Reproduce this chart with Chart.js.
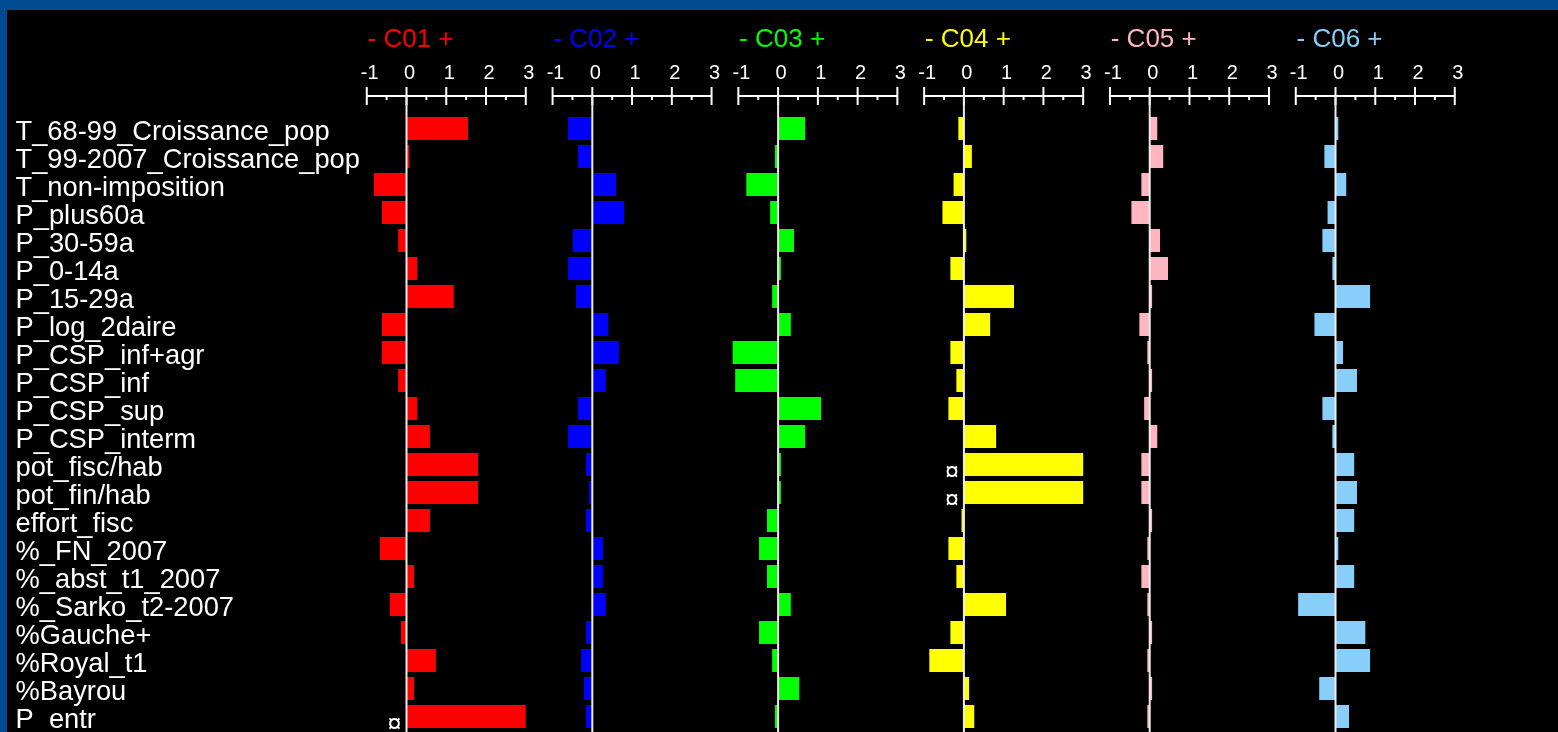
<!DOCTYPE html>
<html>
<head>
<meta charset="utf-8">
<script src="https://cdn.jsdelivr.net/npm/chart.js@4.4.1/dist/chart.umd.min.js"></script>
<style>
html,body{margin:0;padding:0;width:1558px;height:732px;overflow:hidden;background:#004b92;}
#wrap{position:absolute;left:7px;top:10px;width:1551px;height:722px;background:#000;}
canvas{display:block;}
</style>
</head>
<body>
<div id="wrap"><canvas id="c" width="1551" height="722"></canvas></div>
<script>
// ---------- DATA ----------
const variables = [
  'T_68-99_Croissance_pop','T_99-2007_Croissance_pop','T_non-imposition','P_plus60a',
  'P_30-59a','P_0-14a','P_15-29a','P_log_2daire','P_CSP_inf+agr','P_CSP_inf',
  'P_CSP_sup','P_CSP_interm','pot_fisc/hab','pot_fin/hab','effort_fisc','%_FN_2007',
  '%_abst_t1_2007','%_Sarko_t2-2007','%Gauche+','%Royal_t1','%Bayrou','P_entr'
];
const panels = ['C01','C02','C03','C04','C05','C06'];
const tickValues = [-1, 0, 1, 2, 3];
const tickLabels = ['-1', '0', '1', '2', '3'];

const C01 = [1.55, 0.07, -0.82, -0.62, -0.21, 0.27, 1.19, -0.62, -0.62, -0.21, 0.27, 0.59, 1.80, 1.80, 0.59, -0.67, 0.19, -0.42, -0.14, 0.74, 0.19, 3.5];
const C02 = [-0.61, -0.36, 0.60, 0.80, -0.49, -0.61, -0.41, 0.40, 0.67, 0.34, -0.36, -0.61, -0.16, -0.08, -0.16, 0.27, 0.27, 0.34, -0.16, -0.28, -0.21, -0.16];
const C03 = [0.68, -0.08, -0.80, -0.20, 0.40, 0.07, -0.15, 0.32, -1.15, -1.08, 1.08, 0.68, 0.07, 0.07, -0.28, -0.48, -0.28, 0.32, -0.48, -0.15, 0.53, -0.08];
const C04 = [-0.14, 0.20, -0.26, -0.54, 0.06, -0.34, 1.26, 0.66, -0.34, -0.19, -0.39, 0.81, 3.5, 3.5, -0.06, -0.39, -0.19, 1.06, -0.34, -0.87, 0.13, 0.26];
const C05 = [0.19, 0.34, -0.21, -0.46, 0.26, 0.46, 0.06, -0.26, -0.06, 0.06, -0.14, 0.19, -0.21, -0.21, 0.06, -0.06, -0.21, -0.06, 0.06, -0.06, 0.06, -0.06];
const C06 = [0.07, -0.28, 0.27, -0.20, -0.33, -0.08, 0.87, -0.53, 0.19, 0.54, -0.33, -0.08, 0.47, 0.54, 0.47, 0.07, 0.47, -0.94, 0.75, 0.87, -0.41, 0.34];

const shownMax = 3;   // values beyond are truncated and flagged with ¤
const clipMark = '¤';

// ---------- STYLE ----------
const series = [C01, C02, C03, C04, C05, C06];
const panelColors = ['#ff0000', '#0000ff', '#00ff00', '#ffff00', '#ffb6c1', '#87cefa'];
const FONT = "'Liberation Sans', Arial, sans-serif";
Chart.defaults.font.family = FONT;

const xScales = {};
panels.forEach((p, k) => {
  xScales['x' + k] = {
    type: 'linear',
    position: 'top',
    stack: 'panels',
    stackWeight: 1,
    weight: panels.length - k,
    min: -1.15,
    max: 3.524,
    grid: { display: false, drawTicks: false },
    border: { display: false },
    ticks: {
      color: '#ffffff',
      font: { size: 20 },
      padding: 29.4,
      labelOffset: 3,
      autoSkip: false,
      maxRotation: 0,
      minRotation: 0,
      callback: (v) => { const i = tickValues.indexOf(v); return i >= 0 ? tickLabels[i] : ''; }
    },
    afterBuildTicks: (s) => { s.ticks = tickValues.map(v => ({ value: v })); },
    afterFit: (s) => { s.height = 84; s.paddingLeft = 0; s.paddingRight = 0; }
  };
});

const rulerPlugin = {
  id: 'ruler',
  afterDatasetsDraw(chart) {
    const ctx = chart.ctx;
    const area = chart.chartArea;
    const yLine = area.top - 18.5;
    const yScale = chart.scales.y;
    ctx.save();
    panels.forEach((p, k) => {
      const s = chart.scales['x' + k];
      const px = (v) => s.getPixelForValue(v);
      ctx.strokeStyle = '#ffffff';
      ctx.lineWidth = 2;
      ctx.beginPath();
      ctx.moveTo(px(tickValues[0]) - 1, yLine);
      ctx.lineTo(px(tickValues[tickValues.length - 1]) + 1, yLine);
      tickValues.forEach(v => { ctx.moveTo(px(v), yLine - 9); ctx.lineTo(px(v), yLine + 9); });
      for (let i = 0; i < tickValues.length - 1; i++) {
        const m = (tickValues[i] + tickValues[i + 1]) / 2;
        ctx.moveTo(px(m), yLine); ctx.lineTo(px(m), yLine + 4);
      }
      ctx.stroke();
      // zero reference line
      ctx.strokeStyle = '#ececec';
      ctx.beginPath();
      ctx.moveTo(px(0), yLine);
      ctx.lineTo(px(0), chart.height);
      ctx.stroke();
      // panel title
      ctx.fillStyle = panelColors[k];
      ctx.font = '26px ' + FONT;
      ctx.textAlign = 'center';
      ctx.textBaseline = 'alphabetic';
      ctx.fillText('- ' + p + ' +', px(0) + 4, 36.7);
      // truncation markers
      ctx.fillStyle = '#ffffff';
      ctx.font = '25px ' + FONT;
      const m = ctx.measureText(clipMark);
      const inkMid = (m.actualBoundingBoxAscent - m.actualBoundingBoxDescent) / 2;
      series[k].forEach((v, i) => {
        if (v > shownMax) {
          const yc = yScale.getPixelForValue(i) + 6.5;
          ctx.fillText(clipMark, px(0) - 12, yc + inkMid);
        }
      });
    });
    ctx.restore();
  }
};

new Chart(document.getElementById('c'), {
  type: 'bar',
  data: {
    labels: variables,
    datasets: series.map((vals, k) => ({
      label: panels[k],
      data: vals.map(v => Math.min(v, shownMax)),
      xAxisID: 'x' + k,
      yAxisID: 'y',
      backgroundColor: panelColors[k],
      borderWidth: 0,
      grouped: false,
      barPercentage: 23 / 28,
      categoryPercentage: 1
    }))
  },
  options: {
    indexAxis: 'y',
    responsive: false,
    animation: false,
    events: [],
    layout: { padding: { left: 8.5, top: 20.5, right: 82.4, bottom: 1.5 } },
    plugins: { legend: { display: false }, tooltip: { enabled: false }, title: { display: false } },
    scales: Object.assign({}, xScales, {
      y: {
        type: 'category',
        position: 'left',
        offset: true,
        grid: { display: false, drawTicks: false },
        border: { display: false },
        ticks: {
          color: '#ffffff',
          font: { size: 27.3 },
          crossAlign: 'far',
          labelOffset: 4.4,
          autoSkip: false,
          padding: 0
        },
        afterFit: (s) => { s.width = 345.3; s.paddingTop = 0; s.paddingBottom = 0; }
      }
    })
  },
  plugins: [rulerPlugin]
});
</script>
</body>
</html>
